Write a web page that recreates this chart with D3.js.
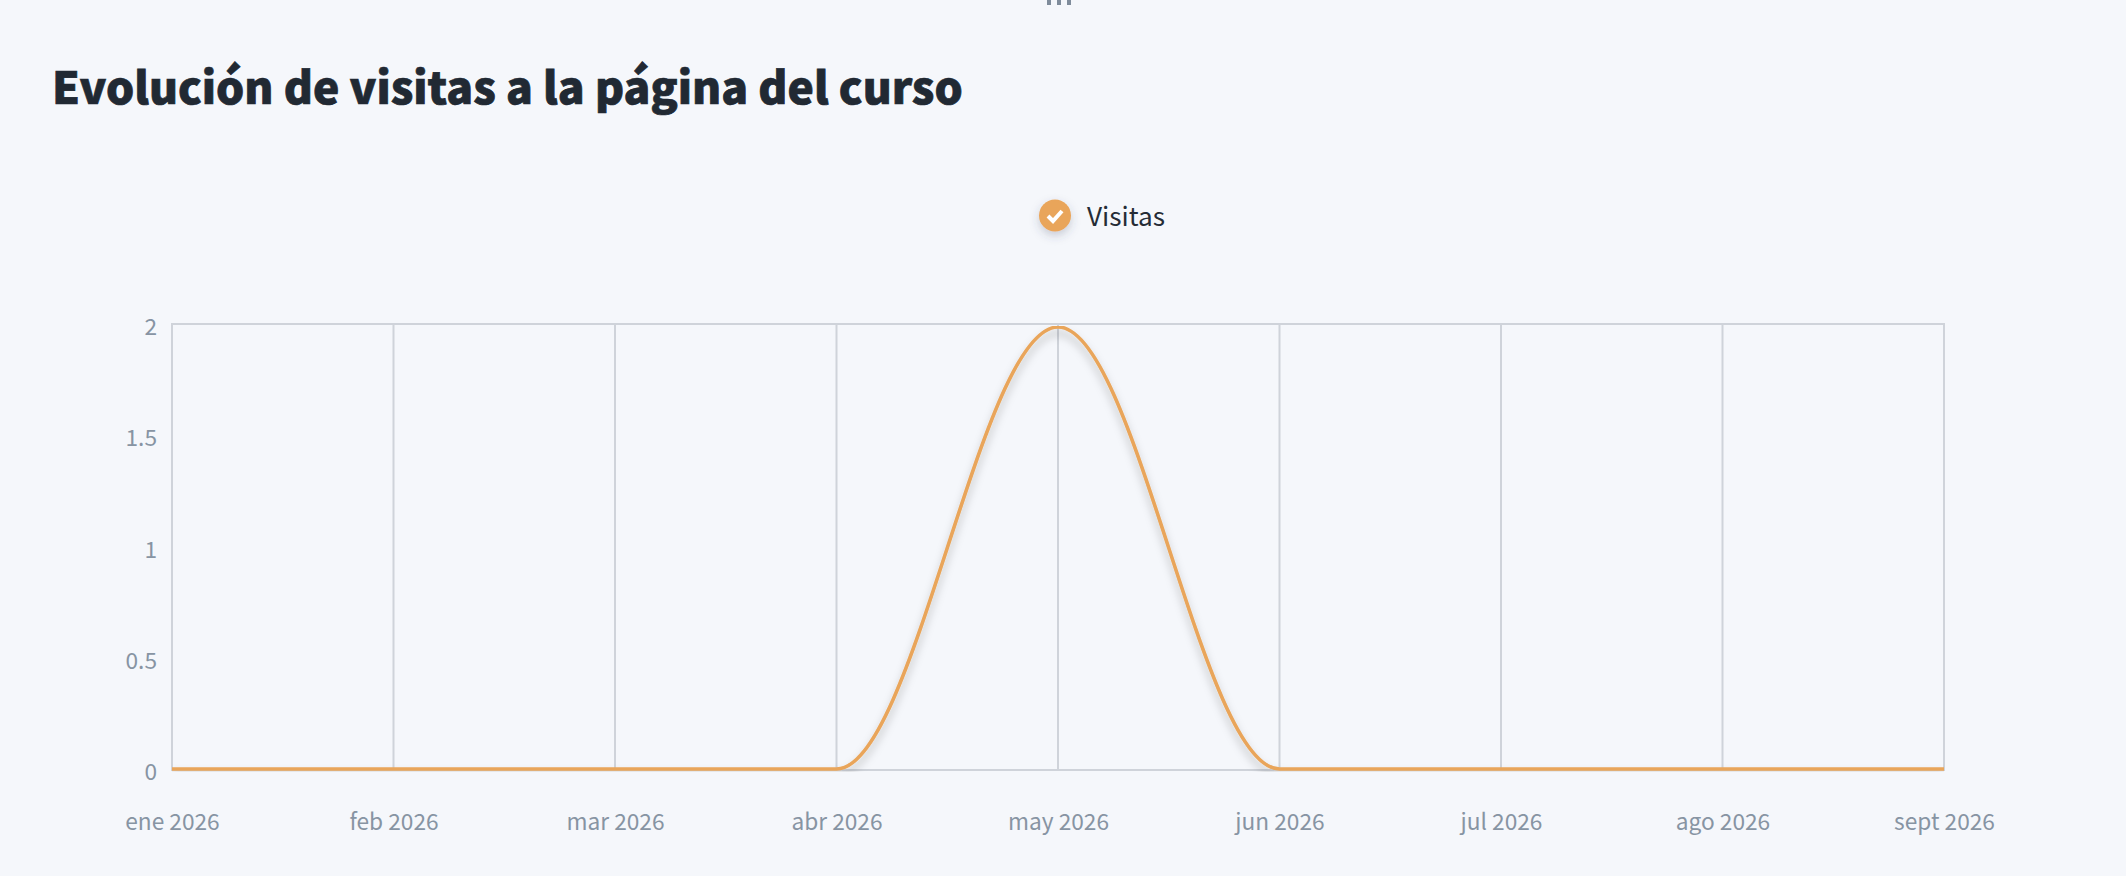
<!DOCTYPE html>
<html lang="es"><head><meta charset="utf-8">
<script src="https://cdn.jsdelivr.net/npm/d3@7"></script>
<style>
html,body{margin:0;padding:0;background:#f5f7fb;overflow:hidden}
svg{display:block;font-family:"Noto Sans CJK SC","Noto Sans",sans-serif}
</style></head><body><svg id="c" width="2126" height="876"></svg>
<script>
const categories=["ene 2026","feb 2026","mar 2026","abr 2026","may 2026","jun 2026","jul 2026","ago 2026","sept 2026"];
const visitas=[0,0,0,0,2,0,0,0,0];
const yTicks=[0,0.5,1,1.5,2];
const yTickLabels=["0","0.5","1","1.5","2"];
const titleText="Evolución de visitas a la página del curso";
const seriesName="Visitas";

const svg=d3.select("#c");
const M={l:172,r:1944,t:324,b:769};
const x=d3.scalePoint().domain(categories).range([M.l,M.r]);
const y=d3.scaleLinear().domain([0,2]).range([M.b,M.t+3]);

// smoothing with control points at 35% of each interval
function Smooth(ctx){this._c=ctx;}
Smooth.prototype={
 areaStart(){},areaEnd(){},
 lineStart(){this._p=null;},lineEnd(){},
 point(a,b){a=+a;b=+b;
  if(!this._p)this._c.moveTo(a,b);
  else{const d=(a-this._p[0])*0.35;this._c.bezierCurveTo(this._p[0]+d,this._p[1],a-d,b,a,b);}
  this._p=[a,b];}
};
const curve=ctx=>new Smooth(ctx);

const defs=svg.append("defs");
const f=defs.append("filter").attr("id","ds").attr("filterUnits","userSpaceOnUse")
 .attr("x",100).attr("y",280).attr("width",1900).attr("height",520);
f.append("feDropShadow").attr("dx",0).attr("dy",6).attr("stdDeviation",4).attr("flood-color","#000").attr("flood-opacity",0.26);
const f2=defs.append("filter").attr("id","ms").attr("x","-60%").attr("y","-60%").attr("width","220%").attr("height","220%");
f2.append("feDropShadow").attr("dx",0).attr("dy",4).attr("stdDeviation",5).attr("flood-color","#3c4a64").attr("flood-opacity",0.25);
defs.append("clipPath").attr("id","pc").append("rect").attr("x",M.l).attr("y",M.t+2).attr("width",M.r-M.l).attr("height",M.b-M.t+1);

// top fragment of the element above the chart
svg.append("g").attr("fill","#7f8c9b").selectAll("rect").data([0,1,2]).join("rect")
 .attr("x",d=>1047+d*10).attr("y",0).attr("width",4).attr("height",5);

svg.append("text").attr("x",52).attr("y",104).attr("font-size",44.4).attr("font-weight",900).attr("fill","#212933")
 .attr("stroke","#212933").attr("stroke-width",0.7).text(titleText);

// legend
svg.append("circle").attr("cx",1055).attr("cy",215.5).attr("r",16).attr("fill","#e9a55a").attr("filter","url(#ms)");
svg.append("path").attr("d","M1048 216l5 5 9-10").attr("fill","none").attr("stroke","#fff").attr("stroke-width",4);
svg.append("text").attr("x",1087).attr("y",226).attr("font-size",26.2).attr("fill","#252c36").text(seriesName);

// grid
const grid=svg.append("g").attr("stroke","#cfd3da").attr("stroke-width",2).attr("fill","none");
grid.selectAll("line.v").data(categories).join("line").attr("class","v")
 .attr("x1",d=>x(d)).attr("x2",d=>x(d)).attr("y1",M.t).attr("y2",M.b);
grid.append("line").attr("x1",M.l-1).attr("x2",M.r+1).attr("y1",M.t).attr("y2",M.t);
grid.append("line").attr("x1",M.l-1).attr("x2",M.r+1).attr("y1",M.b+1).attr("y2",M.b+1);

// axes
const ax=svg.append("g").attr("transform",`translate(0,${M.b+61})`).call(d3.axisBottom(x).tickSize(0).tickPadding(0))
 .attr("font-family",null).attr("font-size",null);
ax.select(".domain").remove();
ax.selectAll("text").attr("dy",0).attr("y",0).attr("font-size",22.7).attr("fill","#8794a3");
const ay=svg.append("g").attr("transform",`translate(${M.l-15},0)`).call(d3.axisLeft(d3.scaleLinear().domain([0,2]).range([M.b,M.t])).tickValues(yTicks).tickFormat((d,i)=>yTickLabels[i]).tickSize(0).tickPadding(0))
 .attr("font-family",null).attr("font-size",null);
ay.select(".domain").remove();
ay.selectAll("text").attr("dy",10.7).attr("font-size",22.7).attr("fill","#8794a3");

// series
const line=d3.line().x((d,i)=>x(categories[i])).y(d=>y(d)).curve(curve);
svg.append("g").attr("clip-path","url(#pc)").append("path").datum(visitas).attr("d",line)
 .attr("fill","none").attr("stroke","#e9a55a").attr("stroke-width",3.6).attr("filter","url(#ds)");
</script></body></html>
